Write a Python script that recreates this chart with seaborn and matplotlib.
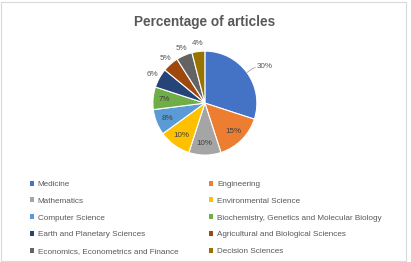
import numpy as np
import matplotlib
matplotlib.use("Agg")
import matplotlib.pyplot as plt
import seaborn as sns
from matplotlib.patches import Patch, Rectangle

# subject areas and their share of articles (%)
subjects = ["Medicine", "Engineering", "Mathematics", "Environmental Science",
            "Computer Science", "Biochemistry, Genetics and Molecular Biology",
            "Earth and Planetary Sciences", "Agricultural and Biological Sciences",
            "Economics, Econometrics and Finance", "Decision Sciences"]
shares = [30, 15, 10, 10, 8, 7, 6, 5, 5, 4]
colors = ["#4472C4", "#ED7D31", "#A5A5A5", "#FFC000", "#5B9BD5",
          "#70AD47", "#264478", "#9E480E", "#636363", "#997300"]

sns.set_theme(style="white")
plt.rcParams['font.family'] = ['Liberation Sans', 'DejaVu Sans']
palette = sns.color_palette(colors)

fig = plt.figure(figsize=(4.11, 2.62), dpi=100)
fig.patch.set_facecolor("white")

ax = fig.add_axes([0.372, 0.408, 0.253, 0.397])
wedges, _ = ax.pie(shares, colors=palette, startangle=90, counterclock=False,
                   wedgeprops=dict(edgecolor="white", linewidth=0.8))
ax.set_xlim(-1, 1)
ax.set_ylim(-1, 1)
ax.set_aspect("equal")

# percentage labels: inside for big slices, outside for small ones
for i, w in enumerate(wedges):
    ang = np.deg2rad((w.theta1 + w.theta2) / 2)
    x, y = np.cos(ang), np.sin(ang)
    if i == 0:
        ax.plot([x * 1.0, x * 1.12, x * 1.2], [y * 1.0, y * 1.12, y * 1.12 + 0.03],
                color="#A6A6A6", lw=0.6, clip_on=False)
        ax.text(x * 1.2 + 0.03, y * 1.12 + 0.05, f"{shares[i]}%", ha="left", va="center",
                fontsize=5.8, color="#595959")
    elif shares[i] >= 7:
        ax.text(x * 0.78, y * 0.78, f"{shares[i]}%", ha="center", va="center",
                fontsize=5.8, color="#404040")
    else:
        ax.text(x * 1.15, y * 1.15, f"{shares[i]}%", ha="center", va="center",
                fontsize=5.8, color="#595959")

fig.text(0.497, 0.917, "Percentage of articles", ha="center", va="center",
         fontsize=9.8, fontweight="bold", color="#595959")

# legend, filled row by row like the original
handles = [Patch(facecolor=c, edgecolor="none") for c in palette]
order = [0, 2, 4, 6, 8, 1, 3, 5, 7, 9]
fig.legend([handles[i] for i in order], [subjects[i] for i in order], ncol=2,
           loc="upper left", bbox_to_anchor=(0.072, 0.310), frameon=False,
           fontsize=5.9, labelcolor="#595959", handlelength=0.55, handleheight=0.55,
           handletextpad=0.45, labelspacing=1.14, columnspacing=3.7,
           borderpad=0, borderaxespad=0)

fig.add_artist(Rectangle((0.002, 0.004), 0.986, 0.99, transform=fig.transFigure,
                         fill=False, edgecolor="#D9D9D9", lw=0.8))

fig.savefig("out.png", dpi=100)
